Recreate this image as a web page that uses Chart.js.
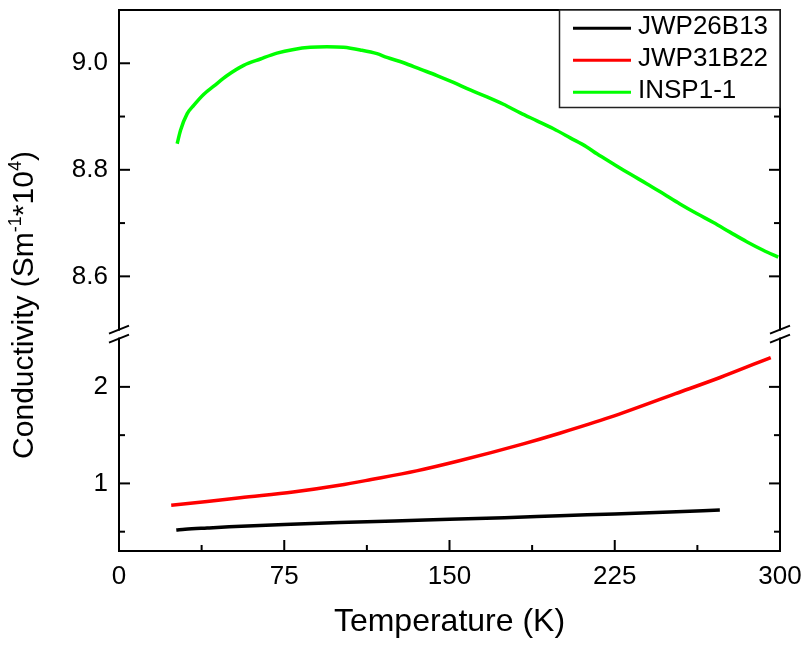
<!DOCTYPE html>
<html><head><meta charset="utf-8">
<script src="https://cdn.jsdelivr.net/npm/chart.js@4.4.1/dist/chart.umd.min.js"></script>
<style>html,body{margin:0;padding:0;background:#fff}canvas{display:block}</style>
</head><body>
<canvas id="c" width="807" height="648"></canvas>
<script>
const FONT = '"Liberation Sans", Arial, Helvetica, sans-serif';

const seriesNames = ['JWP26B13', 'JWP31B22', 'INSP1-1'];
const seriesColors = ['#000000', '#ff0000', '#00ff00'];

const blackT = [26, 30, 40, 50, 75, 100, 125, 150, 175, 200, 225, 250, 272.7];
const blackV = [0.517, 0.525, 0.538, 0.55, 0.574, 0.594, 0.612, 0.628, 0.645, 0.665, 0.684, 0.704, 0.724];

const redT = [23.7, 40, 55, 79, 100, 114.5, 135, 154, 183.5, 200, 223, 252.6, 272.8, 295.8];
const redV = [0.775, 0.812, 0.852, 0.91, 0.98, 1.04, 1.13, 1.232, 1.41, 1.52, 1.686, 1.93, 2.097, 2.304];

const greenT = [26.4, 27.9, 30.9, 33.9, 38.5, 43.0, 49.1, 56.6, 64.2, 71.7, 79.3, 86.8, 94.4, 101.9, 109.5, 117.1, 121.6, 129.2, 136.7, 144.3, 151.8, 159.4, 167.0, 174.5, 182.1, 189.7, 197.2, 204.8, 212.3, 216.9, 224.4, 232.0, 239.5, 247.1, 254.6, 262.2, 269.8, 277.3, 284.9, 292.4, 299.2];
const greenV = [8.849, 8.874, 8.905, 8.921, 8.942, 8.957, 8.977, 8.996, 9.008, 9.019, 9.026, 9.030, 9.031, 9.030, 9.025, 9.018, 9.011, 9.001, 8.989, 8.977, 8.964, 8.950, 8.937, 8.923, 8.907, 8.892, 8.877, 8.860, 8.843, 8.830, 8.811, 8.792, 8.774, 8.755, 8.736, 8.718, 8.701, 8.683, 8.665, 8.649, 8.636];

const xRange = [0, 300];
const xMajorTicks = [0, 75, 150, 225, 300];
const xMinorTicks = [37.5, 112.5, 187.5, 262.5];
const upperRange = [8.5, 9.1];
const upperMajorTicks = [8.6, 8.8, 9.0];
const upperMinorTicks = [8.7, 8.9];
const lowerRange = [0.3, 2.5];
const lowerAxisTop = 2.593;   // includes the small gap above the break
const lowerMajorTicks = [1, 2];
const lowerMinorTicks = [0.5, 1.5];

const xTitle = 'Temperature (K)';
const yTitleParts = [['Conductivity (Sm', false], ['-1', true], ['*10', false], ['4', true], [')', false]];

const toPts = (T, V) => T.map((t, i) => ({x: t, y: V[i]}));

const framePlugin = {
  id: 'frame',
  afterDatasetsDraw(chart) {
    const {ctx, chartArea: a, scales} = chart;
    const xs = scales.x, yH = scales.yHigh, yL = scales.yLow;
    ctx.save();
    ctx.strokeStyle = '#000';
    ctx.lineWidth = 2;
    ctx.lineCap = 'butt';
    const seg = (x1, y1, x2, y2) => { ctx.beginPath(); ctx.moveTo(x1, y1); ctx.lineTo(x2, y2); ctx.stroke(); };
    ctx.strokeRect(a.left, a.top, a.right - a.left, a.bottom - a.top);
    xMajorTicks.forEach(v => { const p = xs.getPixelForValue(v); seg(p, a.bottom, p, a.bottom - 11); });
    xMinorTicks.forEach(v => { const p = xs.getPixelForValue(v); seg(p, a.bottom, p, a.bottom - 6); });
    [[yH, upperMajorTicks, 11], [yH, upperMinorTicks, 6], [yL, lowerMajorTicks, 11], [yL, lowerMinorTicks, 6]]
      .forEach(([s, vals, len]) => vals.forEach(v => {
        const p = s.getPixelForValue(v);
        seg(a.left, p, a.left + len, p);
        seg(a.right, p, a.right - len, p);
      }));
    const yb1 = yH.getPixelForValue(upperRange[0]);
    const yb2 = yL.getPixelForValue(lowerRange[1]);
    [a.left, a.right].forEach(ax => {
      ctx.fillStyle = '#fff';
      ctx.fillRect(ax - 3, Math.min(yb1, yb2) + 1, 6, Math.abs(yb2 - yb1) - 2);
      seg(ax - 10, yb1 + 4, ax + 10, yb1 - 4);
      seg(ax - 10, yb2 + 4, ax + 10, yb2 - 4);
    });

    // y title (rotated, with superscripts)
    const mainF = '30px ' + FONT, supF = '18px ' + FONT;
    let total = 0;
    yTitleParts.forEach(([t, sup]) => { ctx.font = sup ? supF : mainF; total += ctx.measureText(t).width; });
    ctx.translate(22.5, 305);
    ctx.rotate(-Math.PI / 2);
    ctx.fillStyle = '#000';
    ctx.textBaseline = 'alphabetic';
    ctx.textAlign = 'left';
    let cx = -total / 2;
    const base = 10.7;
    yTitleParts.forEach(([t, sup]) => {
      ctx.font = sup ? supF : mainF;
      ctx.fillText(t, cx, sup ? base - 12 : base);
      cx += ctx.measureText(t).width;
    });
    ctx.setTransform(1, 0, 0, 1, 0, 0);

    // legend
    const lx = 559.5, ly = a.top, lw = a.right - 559.5, lh = 97.5;
    ctx.fillStyle = '#fff';
    ctx.fillRect(lx, ly, lw, lh);
    ctx.lineWidth = 1.5;
    ctx.strokeStyle = '#222';
    ctx.strokeRect(lx, ly, lw, lh);
    ctx.font = '26px ' + FONT;
    ctx.textBaseline = 'middle';
    ctx.textAlign = 'left';
    seriesNames.forEach((n, i) => {
      const ry = ly + 18.3 + 32 * i;
      ctx.strokeStyle = seriesColors[i];
      ctx.lineWidth = 3;
      seg(573, ry, 631, ry);
      ctx.fillStyle = '#000';
      ctx.fillText(n, 638, ry - 1.5);
    });
    ctx.restore();
  }
};

const tickFont = {family: FONT, size: 26};
const noPad = s => { s.paddingTop = 0; s.paddingBottom = 0; s.paddingLeft = 0; s.paddingRight = 0; };

new Chart(document.getElementById('c'), {
  type: 'line',
  data: {
    datasets: [
      {label: seriesNames[0], data: toPts(blackT, blackV), borderColor: seriesColors[0], yAxisID: 'yLow'},
      {label: seriesNames[1], data: toPts(redT, redV), borderColor: seriesColors[1], yAxisID: 'yLow'},
      {label: seriesNames[2], data: toPts(greenT, greenV), borderColor: seriesColors[2], yAxisID: 'yHigh'}
    ].map(d => Object.assign(d, {borderWidth: 3.5, pointRadius: 0, fill: false, cubicInterpolationMode: 'monotone', xAxisID: 'x'}))
  },
  options: {
    responsive: false,
    devicePixelRatio: 1,
    animation: false,
    events: [],
    layout: {padding: {top: 10, right: 27, left: 0, bottom: 0}},
    plugins: {legend: {display: false}, tooltip: {enabled: false}},
    scales: {
      yLow: {
        type: 'linear', position: 'left', stack: 'v', stackWeight: 221.5,
        min: lowerRange[0], max: lowerAxisTop,
        grid: {display: false, drawTicks: false}, border: {display: false},
        ticks: {font: tickFont, color: '#000', padding: 11, autoSkip: false, callback: v => String(v)},
        afterBuildTicks: s => { s.ticks = lowerMajorTicks.map(v => ({value: v})); },
        afterFit: s => { s.width = 119; noPad(s); }
      },
      yHigh: {
        type: 'linear', position: 'left', stack: 'v', stackWeight: 319.8,
        min: upperRange[0], max: upperRange[1],
        grid: {display: false, drawTicks: false}, border: {display: false},
        ticks: {font: tickFont, color: '#000', padding: 11, autoSkip: false, callback: v => v.toFixed(1)},
        afterBuildTicks: s => { s.ticks = upperMajorTicks.map(v => ({value: v})); },
        afterFit: s => { s.width = 119; noPad(s); }
      },
      x: {
        type: 'linear', position: 'bottom', min: xRange[0], max: xRange[1],
        grid: {display: false, drawTicks: false}, border: {display: false},
        ticks: {font: tickFont, color: '#000', padding: 10, autoSkip: false, maxRotation: 0, callback: v => String(v)},
        afterBuildTicks: s => { s.ticks = xMajorTicks.map(v => ({value: v})); },
        title: {display: true, text: xTitle, color: '#000', font: {family: FONT, size: 32}, padding: {top: 0, bottom: 7}},
        afterFit: s => { s.height = 97; noPad(s); }
      }
    }
  },
  plugins: [framePlugin]
});
</script>
</body></html>
